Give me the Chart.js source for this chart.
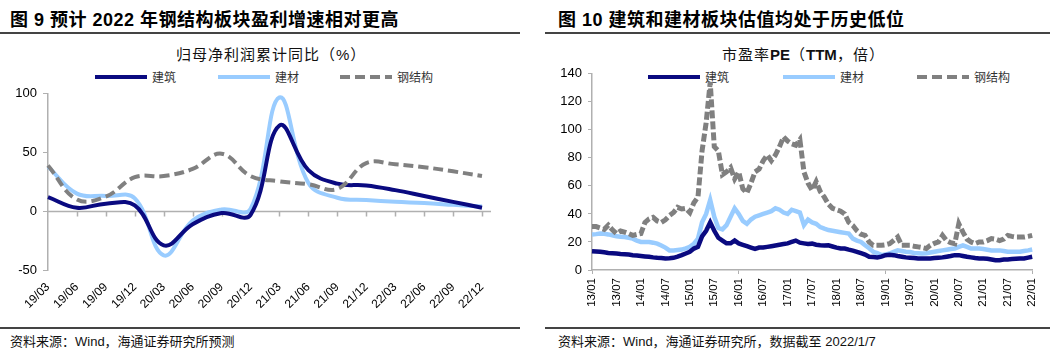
<!DOCTYPE html>
<html>
<head>
<meta charset="utf-8">
<script src="https://cdn.jsdelivr.net/npm/chart.js@4.4.1/dist/chart.umd.min.js"></script>
<style>
  body { margin: 0; width: 1050px; height: 360px; background: #fff; position: relative; overflow: hidden;
         font-family: "Liberation Sans", "Noto Sans CJK SC", sans-serif; color: #000; }
  .hd { position: absolute; top: 5px; font-weight: bold; font-size: 18px; letter-spacing: 0.5px;
        font-family: "Liberation Sans", "Noto Sans CJK SC", sans-serif; white-space: nowrap; }
  .rule { position: absolute; height: 2px; background: #444; }
  .ct { position: absolute; top: 43px; font-size: 15px; letter-spacing: 1px; white-space: nowrap; color: #111;
        font-family: "Liberation Sans", "Noto Sans CJK SC", sans-serif; }
  .ct b { font-weight: bold; letter-spacing: 0; }
  .lg { position: absolute; display: flex; align-items: center; font-size: 12px; color: #333;
        font-family: "Noto Sans CJK SC", sans-serif; white-space: nowrap; }
  .lg svg { margin-right: 5px; }
  .src { position: absolute; top: 331px; font-size: 13px; white-space: nowrap; color: #111;
         font-family: "Liberation Sans", "Noto Sans CJK SC", sans-serif; }
  canvas { position: absolute; }
</style>
</head>
<body>
<div class="hd" style="left:10px">图 9 预计 2022 年钢结构板块盈利增速相对更高</div>
<div class="hd" style="left:558px">图 10 建筑和建材板块估值均处于历史低位</div>
<div class="rule" style="left:0;width:520px;top:32px"></div>
<div class="rule" style="left:545px;width:505px;top:32px"></div>
<div class="ct" style="left:176px">归母净利润累计同比（%）</div>
<div class="ct" style="left:722px">市盈率<b>PE</b>（<b>TTM</b>，倍）</div>
<div id="lg1"></div>
<div id="lg2"></div>
<canvas id="c1" width="520" height="250" style="left:0;top:80px"></canvas>
<canvas id="c2" width="520" height="270" style="left:530px;top:60px"></canvas>
<div class="rule" style="left:0;width:520px;top:327px"></div>
<div class="rule" style="left:545px;width:505px;top:327px"></div>
<div class="src" style="left:10px">资料来源：Wind，海通证券研究所预测</div>
<div class="src" style="left:558px">资料来源：Wind，海通证券研究所，数据截至 2022/1/7</div>

<script>
// series names (same for both charts)
var seriesNames = ["建筑", "建材", "钢结构"];

// 图9: 归母净利润累计同比 (%), quarterly
var quarters = ["19/03", "19/06", "19/09", "19/12", "20/03", "20/06", "20/09", "20/12",
                "21/03", "21/06", "21/09", "21/12", "22/03", "22/06", "22/09", "22/12"];
var jianzhuYoY = [12, 3, 6.5, 5, -29, -11, -1.5, -3, 73, 35, 23.5, 22, 18, 13, 8, 3];
var jiancaiYoY = [38, 15, 13, 11, -37.5, -8, 1.5, 2, 97, 24, 11.5, 9.5, 8, 7, 5.5, 4];
var gangjiegouYoY = [39, 10, 12.5, 29, 30, 36, 49, 30, 25.5, 23, 19, 41, 40, 37.5, 34, 30];
var yoyTicks = [-50, 0, 50, 100];

// 图10: 市盈率PE (TTM, 倍), monthly from 2013/01 to 2022/01
var peTickLabels = ["13/01", "13/07", "14/01", "14/07", "15/01", "15/07", "16/01", "16/07", "17/01",
                    "17/07", "18/01", "18/07", "19/01", "19/07", "20/01", "20/07", "21/01", "21/07", "22/01"];
var jianzhuPE = [
  13.4, 13.2, 13, 12.6, 12.2, 12, 11.8, 11.5, 11.3, 11, 10.6, 10.3,
  10, 9.7, 9.4, 9, 8.7, 8.5, 8.2, 8.4, 8.7, 9.5, 10.6, 11.8,
  13, 15.3, 16.5, 24, 28, 34, 28, 23, 21, 19, 19, 21,
  19, 18, 17, 16, 15, 16, 16, 16.5, 17, 17.5, 18, 18.5,
  19, 20, 21, 19.5, 19, 18.5, 18.8, 18, 17.6, 17.5, 17.6, 16.8,
  16, 15.3, 15.3, 14.5, 13.8, 13, 12, 11, 9.4, 9.2, 9, 9.5,
  10.6, 10.8, 10.6, 10, 9.5, 9, 8.8, 8.5, 8.2, 8.2, 8.2, 8.2,
  8.5, 8.8, 9, 9.5, 10, 10.6, 10.6, 10, 9.4, 9, 8.5, 8.2,
  8.2, 8, 7.5, 7, 7, 7.5, 7.5, 7.8, 8, 8.2, 8.2, 8.8, 9.4
];
var jiancaiPE = [
  25.4, 25.6, 26, 25.8, 25.4, 24.8, 24, 23.8, 23.5, 23, 22.4, 21,
  20, 20, 20, 19.5, 18.8, 17.5, 16, 14, 14, 14.3, 14.6, 15.5,
  16.5, 18.8, 22.4, 34, 40, 50, 38, 30, 29, 32, 38, 44,
  40, 35, 33, 36, 38, 39, 40, 41, 42, 44, 43, 41,
  40, 43, 42, 41, 32, 36, 34, 33, 30.6, 29.5, 28.5, 28,
  27.5, 27, 26.5, 26, 22.4, 21, 20, 17.6, 15.5, 13, 12, 10.6,
  11, 11.8, 13, 14, 13.5, 13, 12.8, 12.2, 12, 11.8, 12, 12.5,
  13, 13.5, 14, 14.5, 15, 15.3, 16.5, 17.6, 16.5, 15.3, 15.3, 15.3,
  15, 14.5, 14, 14, 14, 13.5, 13, 13, 13, 13, 13.5, 14, 14.6
];
var gangjiegouPE = [
  31, 31, 30, 29, 32, 28.7, 26, 27.8, 27, 26, 24.7, 25.4,
  26, 34, 36.5, 37.6, 35, 34, 35.8, 38.8, 41, 44.7, 43.5, 44,
  41, 48, 52, 85, 105, 134, 88, 85, 68, 70, 73, 65,
  70, 58, 55, 62, 70, 72, 78, 82, 78, 82, 88, 95,
  92, 90, 89, 93, 70, 62, 57, 63, 56, 52, 47, 44,
  43, 42, 40, 34, 31.8, 28, 25.5, 24.7, 20, 17.6, 17.6, 17.6,
  18, 18.8, 21, 23.5, 17.6, 17.6, 17.6, 17, 16.5, 16, 15.3, 17.6,
  19, 20, 24.7, 21, 19.5, 18.8, 33, 27, 22, 20, 18.8, 20,
  20, 21, 22.4, 22, 21, 22, 24.7, 24, 23.5, 23.5, 23.5, 24, 24.7
];
var peTicks = [0, 20, 40, 60, 80, 100, 120, 140];

var navy = "#0a0a80";
var lightBlue = "#99ccff";
var gray = "#808080";
var axisGray = "#b0b0b0";
var seriesColors = [navy, lightBlue, gray];

// month labels 13/01 .. 22/01
var peMonths = [];
for (var yr = 13; yr <= 22; yr++) {
  for (var mo = 1; mo <= 12; mo++) {
    if (yr === 22 && mo > 1) break;
    peMonths.push(yr + "/" + (mo < 10 ? "0" + mo : mo));
  }
}

function drawLegend(boxId, xs, top, lineLen, dashes) {
  var box = document.getElementById(boxId);
  seriesNames.forEach(function (name, i) {
    var item = document.createElement("div");
    item.className = "lg";
    item.style.left = xs[i] + "px";
    item.style.top = top + "px";
    item.innerHTML = '<svg width="' + lineLen + '" height="6"><line x1="0" y1="3" x2="' + lineLen +
      '" y2="3" stroke="' + seriesColors[i] + '" stroke-width="4" stroke-dasharray="' + dashes[i] + '"/></svg>' +
      "<span>" + name + "</span>";
    box.appendChild(item);
  });
}
drawLegend("lg1", [95, 218, 340], 68, 52, ["none", "none", "10 5"]);
drawLegend("lg2", [648, 783, 917], 68, 52, ["none", "none", "10 5"]);

function fixedTicks(list) {
  return function (scale) {
    scale.ticks = list.map(function (v) { return { value: v }; });
  };
}

// zero line with small tick marks under it (left chart), placed with the chart's scales
var zeroAxis = {
  id: "zeroAxis",
  beforeDatasetsDraw: function (chart) {
    var xs = chart.scales.x, ys = chart.scales.y, ctx = chart.ctx;
    var y0 = Math.round(ys.getPixelForValue(0)) + 0.5;
    ctx.save();
    ctx.strokeStyle = axisGray;
    ctx.lineWidth = 1.5;
    ctx.beginPath();
    ctx.moveTo(chart.chartArea.left, y0);
    ctx.lineTo(chart.chartArea.right + 9, y0);
    for (var i = 1; i < xs.ticks.length; i++) {
      var px = Math.round(xs.getPixelForTick(i)) + 0.5;
      ctx.moveTo(px, y0);
      ctx.lineTo(px, y0 + 5);
    }
    ctx.stroke();
    ctx.restore();
  }
};

new Chart(document.getElementById("c1"), {
  type: "line",
  data: {
    labels: quarters,
    datasets: [
      { label: seriesNames[0], data: jianzhuYoY, borderColor: navy, borderWidth: 4, order: 1 },
      { label: seriesNames[1], data: jiancaiYoY, borderColor: lightBlue, borderWidth: 4, order: 2 },
      { label: seriesNames[2], data: gangjiegouYoY, borderColor: gray, borderWidth: 4, borderDash: [10, 5], order: 0 }
    ]
  },
  plugins: [zeroAxis],
  options: {
    responsive: false,
    animation: false,
    layout: { padding: { left: 0, right: 38, top: 11, bottom: 0 } },
    elements: { point: { radius: 0 }, line: { tension: 0.4, borderCapStyle: "butt" } },
    plugins: { legend: { display: false }, tooltip: { enabled: false } },
    scales: {
      x: {
        type: "category", position: "bottom", offset: false,
        border: { display: false },
        grid: { display: false, drawTicks: false },
        ticks: { minRotation: 45, maxRotation: 45, autoSkip: false, padding: 10, color: "#000",
                 font: { family: "Liberation Sans", size: 12 } },
        afterFit: function (s) { s.height = 60; }
      },
      y: {
        min: -50, max: 100,
        afterBuildTicks: fixedTicks(yoyTicks),
        border: { display: true, color: axisGray, width: 1.5 },
        grid: { drawOnChartArea: false, tickLength: 5, color: axisGray },
        ticks: { padding: 6, color: "#000", font: { family: "Liberation Sans", size: 13 } },
        afterFit: function (s) { s.width = 48; }
      }
    }
  }
});

new Chart(document.getElementById("c2"), {
  type: "line",
  data: {
    labels: peMonths,
    datasets: [
      { label: seriesNames[0], data: jianzhuPE, borderColor: navy, borderWidth: 4.5, order: 1 },
      { label: seriesNames[1], data: jiancaiPE, borderColor: lightBlue, borderWidth: 4.5, order: 2 },
      { label: seriesNames[2], data: gangjiegouPE, borderColor: gray, borderWidth: 5, borderDash: [8, 3], order: 0 }
    ]
  },
  options: {
    responsive: false,
    animation: false,
    layout: { padding: { left: 0, right: 15, top: 12, bottom: 0 } },
    elements: { point: { radius: 0 }, line: { tension: 0, borderCapStyle: "butt", borderJoinStyle: "miter" } },
    plugins: { legend: { display: false }, tooltip: { enabled: false } },
    scales: {
      x: {
        type: "category", offset: false,
        border: { display: true, color: axisGray, width: 1.5 },
        grid: {
          drawOnChartArea: false, tickLength: 4,
          color: function (ctx) {
            return peTickLabels.indexOf(peMonths[ctx.index]) >= 0 ? axisGray : "rgba(0,0,0,0)";
          }
        },
        ticks: {
          autoSkip: false, minRotation: 90, maxRotation: 90, padding: 4, color: "#000",
          font: { family: "Liberation Sans", size: 11.5 },
          callback: function (v, i) {
            return peTickLabels.indexOf(peMonths[i]) >= 0 ? peMonths[i] : null;
          }
        },
        afterFit: function (s) { s.height = 60; }
      },
      y: {
        min: 0, max: 140,
        afterBuildTicks: fixedTicks(peTicks),
        border: { display: true, color: axisGray, width: 1.5 },
        grid: { drawOnChartArea: false, tickLength: 4, color: axisGray },
        ticks: { padding: 6, color: "#000", font: { family: "Liberation Sans", size: 13 } },
        afterFit: function (s) { s.width = 62; }
      }
    }
  }
});
</script>
</body>
</html>
